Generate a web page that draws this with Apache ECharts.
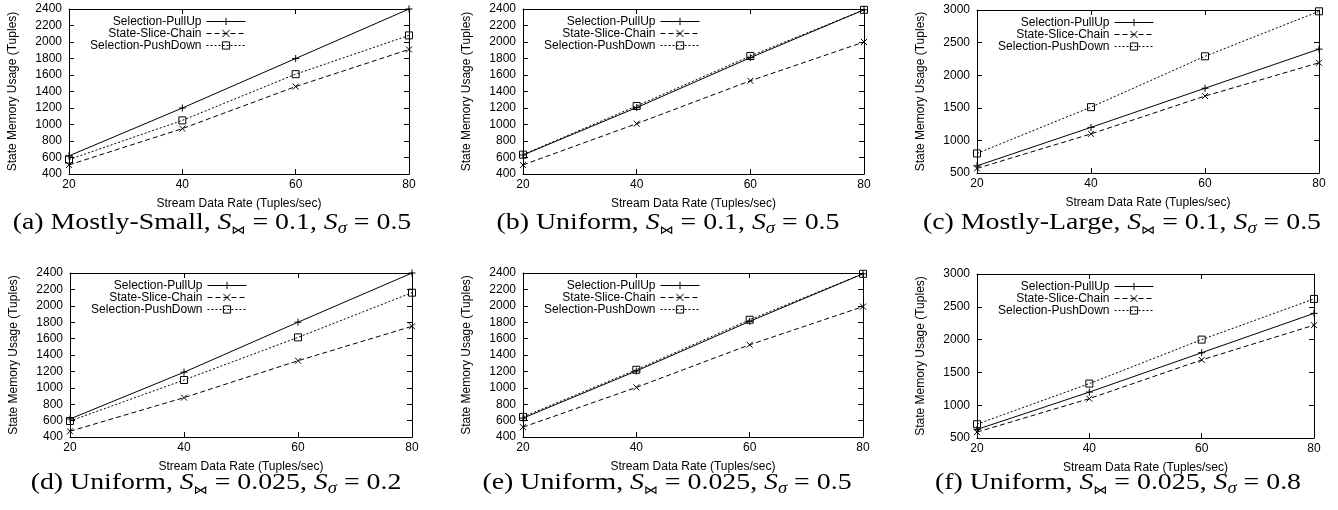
<!DOCTYPE html>
<html><head><meta charset="utf-8">
<script src="https://cdn.jsdelivr.net/npm/echarts@6/dist/echarts.min.js"></script>
<style>html,body{margin:0;padding:0;background:#fff}#c{width:1338px;height:510px}</style>
</head><body><div id="c"></div>
<script>
// ---- data ----
const xValues = [20, 40, 60, 80];
const seriesNames = ['Selection-PullUp', 'State-Slice-Chain', 'Selection-PushDown'];
const xAxisTitle = 'Stream Data Rate (Tuples/sec)';
const yAxisTitle = 'State Memory Usage (Tuples)';

const pullUpA = [620, 1200, 1800, 2400];
const sliceA  = [510, 950, 1460, 1910];
const pushA   = [575, 1050, 1610, 2080];

const pullUpB = [630, 1205, 1810, 2390];
const sliceB  = [510, 1010, 1530, 2000];
const pushB   = [635, 1225, 1830, 2390];

const pullUpC = [610, 1200, 1800, 2400];
const sliceC  = [570, 1100, 1680, 2190];
const pushC   = [800, 1510, 2290, 2980];

const pullUpD = [620, 1190, 1800, 2400];
const sliceD  = [470, 880, 1330, 1750];
const pushD   = [595, 1095, 1615, 2160];

const pullUpE = [630, 1205, 1810, 2390];
const sliceE  = [520, 1005, 1525, 1990];
const pushE   = [645, 1220, 1830, 2390];

const pullUpF = [630, 1200, 1800, 2400];
const sliceF  = [590, 1100, 1690, 2220];
const pushF   = [710, 1330, 2000, 2620];

const yMin = [400, 400, 500, 400, 400, 500];
const yMax = [2400, 2400, 3000, 2400, 2400, 3000];
const yStep = [200, 200, 500, 200, 200, 500];

const captionLabels = ['(a) Mostly-Small, ', '(b) Uniform, ', '(c) Mostly-Large, ', '(d) Uniform, ', '(e) Uniform, ', '(f) Uniform, '];
const joinSel = ['0.1', '0.1', '0.1', '0.025', '0.025', '0.025'];
const selSel = ['0.5', '0.5', '0.5', '0.2', '0.5', '0.8'];

const panelData = [
  [pullUpA, sliceA, pushA], [pullUpB, sliceB, pushB], [pullUpC, sliceC, pushC],
  [pullUpD, sliceD, pushD], [pullUpE, sliceE, pushE], [pullUpF, sliceF, pushF]
];

// ---- layout ----
const W = 1338;
const grids = [
  {left: 69, top: 9, width: 340, height: 165},
  {left: 523, top: 9, width: 341, height: 165},
  {left: 977, top: 10, width: 342, height: 163},
  {left: 70, top: 273, width: 342, height: 164},
  {left: 523, top: 273, width: 340, height: 164},
  {left: 977, top: 274, width: 337, height: 164}
];
const captionPos = [[212, 223], [668, 223], [1122, 223], [216, 483], [667, 483], [1118, 483]];

const styles = [
  {symbol: 'path://M5,0L5,10M0,5L10,5', size: 7, type: 'solid', fill: '#000'},
  {symbol: 'path://M0,0L10,10M10,0L0,10', size: 6, type: [5, 3], fill: '#000'},
  {symbol: 'rect', size: 7, type: [2, 2], fill: 'rgba(0,0,0,0)'}
];

const sans = 'Liberation Sans, Arial, sans-serif';
const serif = 'Liberation Serif, serif';
const black = '#000';

const option = {
  animation: false,
  backgroundColor: '#fff',
  grid: [], xAxis: [], yAxis: [], series: [], legend: [], graphic: []
};

grids.forEach((g, p) => {
  option.grid.push({left: g.left, top: g.top, width: g.width, height: g.height, show: false, containLabel: false});
  const tick = {show: true, inside: true, length: 5, lineStyle: {color: black, width: 1}};
  const line = {show: true, lineStyle: {color: black, width: 1}};
  option.xAxis.push({
    type: 'value', gridIndex: p, min: 20, max: 80, interval: 20, position: 'bottom',
    axisLine: line, axisTick: tick, splitLine: {show: false},
    axisLabel: {color: black, fontSize: 12, fontFamily: sans, margin: 5, formatter: v => String(v)},
    name: xAxisTitle, nameLocation: 'middle', nameGap: 24,
    nameTextStyle: {color: black, fontSize: 12, fontFamily: sans}
  });
  option.xAxis.push({
    type: 'value', gridIndex: p, min: 20, max: 80, interval: 20, position: 'top',
    axisLine: line, axisTick: tick, splitLine: {show: false}, axisLabel: {show: false}
  });
  option.yAxis.push({
    type: 'value', gridIndex: p, min: yMin[p], max: yMax[p], interval: yStep[p], position: 'left',
    axisLine: line, axisTick: tick, splitLine: {show: false},
    axisLabel: {color: black, fontSize: 12, fontFamily: sans, margin: 7, formatter: v => String(v)},
    name: yAxisTitle, nameLocation: 'middle', nameGap: 50,
    nameTextStyle: {color: black, fontSize: 12, fontFamily: sans}
  });
  option.yAxis.push({
    type: 'value', gridIndex: p, min: yMin[p], max: yMax[p], interval: yStep[p], position: 'right',
    axisLine: line, axisTick: tick, splitLine: {show: false}, axisLabel: {show: false}
  });

  panelData[p].forEach((vals, s) => {
    const st = styles[s];
    option.series.push({
      type: 'line', name: seriesNames[s], xAxisIndex: p * 2, yAxisIndex: p * 2,
      data: xValues.map((x, k) => [x, vals[k]]),
      symbol: st.symbol, symbolSize: st.size, showSymbol: true,
      lineStyle: {color: black, width: 1, type: st.type},
      itemStyle: {color: st.fill, borderColor: black, borderWidth: 1},
      emphasis: {disabled: true}, z: 3 - s
    });
  });

  [11, 23, 35].forEach((dy, s) => {
    option.legend.push({
      data: [seriesNames[s]], orient: 'horizontal', align: 'right',
      right: W - (g.left + 177), top: g.top + dy - 4.5,
      itemWidth: 39, itemHeight: 9, padding: 0, selectedMode: false,
      lineStyle: {width: 1, color: black, type: styles[s].type},
      itemStyle: {borderWidth: 1, borderColor: black, color: styles[s].fill},
      textStyle: {color: black, fontSize: 12, fontFamily: sans}
    });
  });

  const c = captionPos[p];
  option.graphic.push({
    type: 'text', x: c[0], y: c[1], scaleX: 1.16, scaleY: 1,
    style: {
      text: '{r|' + captionLabels[p] + '}{i|S}{s|⋈}{r| = ' + joinSel[p] + ', }{i|S}{t|σ}{r| = ' + selSel[p] + '}',
      align: 'center', verticalAlign: 'middle', fill: black,
      rich: {
        r: {fontFamily: serif, fontSize: 24, lineHeight: 28, color: black},
        i: {fontFamily: serif, fontStyle: 'italic', fontSize: 24, lineHeight: 28, color: black},
        s: {fontFamily: 'DejaVu Sans, sans-serif', fontSize: 12, verticalAlign: 'bottom', color: black},
        t: {fontFamily: serif, fontStyle: 'italic', fontSize: 16, verticalAlign: 'bottom', color: black}
      }
    }
  });
});

const chart = echarts.init(document.getElementById('c'), null, {renderer: 'canvas'});
chart.setOption(option);
</script>
</body></html>
